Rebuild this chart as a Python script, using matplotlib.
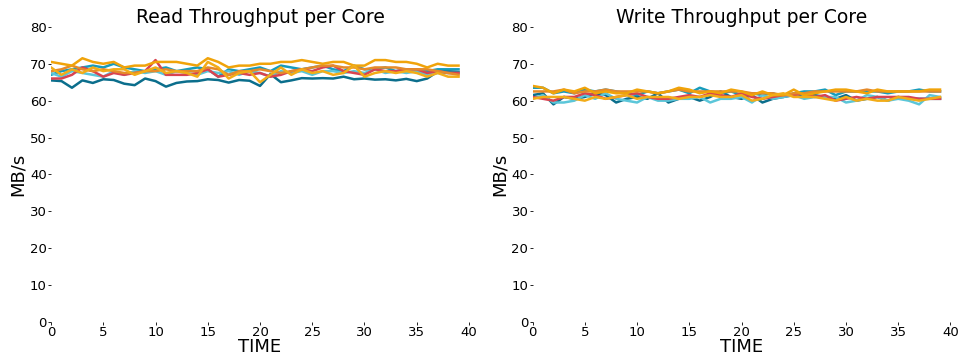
import numpy as np
import matplotlib
matplotlib.use("Agg")
import matplotlib.pyplot as plt

time = np.arange(40)

colors = ["#0b6e8c", "#179bbb", "#5bc6d9", "#d94350", "#e58a2a", "#f0a30a", "#f2ac18"]

read_darkteal = [65.5, 65.3, 63.5, 65.5, 64.8, 65.8, 65.6, 64.6, 64.2, 66.0, 65.3, 63.8, 64.8, 65.2, 65.3, 65.8, 65.6, 64.9, 65.6, 65.4,
                 64.0, 67.2, 65.0, 65.5, 66.1, 66.0, 66.1, 66.0, 66.5, 65.8, 66.0, 65.7, 65.8, 65.5, 65.9, 65.3, 66.0, 67.9, 68.0, 67.8]
read_teal = [67, 68, 68.5, 69, 69.5, 69, 70, 69, 68.5, 68, 68.5, 69, 68, 68.5, 69, 68.5, 66.5, 68.5, 68, 68.5,
             69, 68, 69.5, 69, 68.5, 69, 69.5, 68.5, 68, 69.5, 68.5, 68.5, 69, 68, 68.5, 68.5, 68, 68.5, 68.5, 68.5]
read_cyan = [67.5, 66.5, 68, 67.5, 67, 66.5, 68, 67, 68, 67.5, 68, 67, 68, 67.5, 67, 68, 67.5, 68, 67, 68,
             67.5, 66.5, 68, 67.5, 68, 67, 68, 68, 67.5, 68, 67.5, 68.5, 67.5, 68, 67.5, 68, 67, 67.5, 67.5, 67.5]
read_red = [66, 66, 67, 69, 68, 66.5, 67.5, 67, 67.5, 68, 71, 67, 67, 67, 67.5, 68.5, 66.5, 67, 67.5, 67,
            67.5, 66.5, 67, 68, 68.5, 68, 69, 69.5, 68, 67.5, 67, 68.5, 68, 68, 68.5, 68.5, 67.5, 68, 67.5, 67.5]
read_darkorange = [68, 68.5, 69.5, 68.5, 68, 68.5, 68, 67.5, 67.5, 68, 68, 68.5, 68, 68, 68, 69, 68.5, 67, 68, 68,
                   68.5, 68, 67.5, 68, 68.5, 69, 69.5, 69.5, 69, 69, 68.5, 69, 69, 69, 68.5, 68.5, 68.5, 68, 67.5, 67]
read_orange1 = [70.5, 70, 69.5, 71.5, 70.5, 70, 70.5, 69, 69.5, 69.5, 70.5, 70.5, 70.5, 70, 69.5, 71.5, 70.5, 69, 69.5, 69.5,
                70, 70, 70.5, 70.5, 71, 70.5, 70, 70.5, 70.5, 69.5, 69.5, 71, 71, 70.5, 70.5, 70, 69, 70, 69.5, 69.5]
read_orange2 = [69, 67, 68.5, 67.5, 69, 68, 68.5, 68.5, 67, 68, 69, 67.5, 68, 67.5, 66.5, 70.5, 69, 66, 67.5, 68,
                65, 67, 69, 67, 68.5, 67.5, 68, 67, 67.5, 69.5, 66.5, 67.5, 68, 67.5, 68, 67.5, 66.5, 67.5, 66.5, 66.5]

write_darkteal = [61.5, 62, 59, 61, 60.5, 61, 62, 61.5, 59.5, 60.5, 61, 60.5, 62, 59.5, 60.5, 61, 60, 61, 62.5, 61,
                  60.5, 61.5, 59.5, 60.5, 61, 61.5, 61, 61.5, 61, 60.5, 61.5, 60, 60.5, 61, 60, 61, 60.5, 60.5, 60.5, 60.5]
write_teal = [63.5, 63.5, 62, 62.5, 62, 63, 62.5, 63, 62.5, 62, 61.5, 62.5, 62, 62.5, 63, 62, 63.5, 62.5, 62, 62.5,
              61.5, 62, 61.5, 62, 61, 62, 62.5, 62.5, 63, 61.5, 62.5, 62.5, 62.5, 62.5, 62, 62.5, 62.5, 63, 62.5, 62.5]
write_cyan = [60.5, 61.5, 59.5, 59.5, 60, 61.5, 60.5, 62, 60.5, 60, 59.5, 61, 60, 60, 60.5, 60.5, 61, 59.5, 60.5, 60.5,
              61, 59.5, 61.5, 60.5, 61, 61.5, 60.5, 61, 61, 61, 59.5, 60, 61.5, 61, 60, 60.5, 60, 59, 61.5, 61]
write_red = [61, 60.5, 60, 61, 61, 62, 61.5, 60.5, 61, 61.5, 62, 61, 60.5, 60.5, 61, 61.5, 61, 62, 61.5, 61,
             62, 61, 60.5, 61, 61.5, 61.5, 62, 61, 61.5, 60, 60.5, 61, 60.5, 61, 61, 61, 61, 60.5, 60.5, 60.5]
write_darkorange = [62.5, 62.5, 62.5, 63, 62, 62.5, 62.5, 63, 62.5, 62.5, 62.5, 62.5, 62, 62.5, 63, 62.5, 62.5, 62.5, 62.5, 62.5,
                    62.5, 62, 62, 62, 61.5, 62, 62, 62.5, 62.5, 62.5, 62.5, 62.5, 63, 62.5, 62.5, 62.5, 62.5, 62.5, 62.5, 62.5]
write_orange1 = [64, 63.5, 62, 63, 62.5, 63.5, 62, 62.5, 62, 62, 63, 62.5, 62, 62.5, 63.5, 63, 62, 62.5, 62, 63,
                 62.5, 61.5, 62.5, 61.5, 61.5, 63, 61.5, 62, 62.5, 63, 63, 62.5, 62, 63, 62.5, 62.5, 62.5, 62.5, 63, 63]
write_orange2 = [60.5, 61, 61, 61, 60.5, 60, 61, 60.5, 61, 61.5, 60.5, 61, 61, 61, 60.5, 61, 61, 61.5, 61, 61,
                 61.5, 60, 60.5, 61.5, 62, 61, 61, 61, 60.5, 60, 61, 60, 60.5, 60, 60, 61, 60.5, 60, 60.5, 61]

read = [read_darkteal, read_teal, read_cyan, read_red, read_darkorange, read_orange1, read_orange2]
write = [write_darkteal, write_teal, write_cyan, write_red, write_darkorange, write_orange1, write_orange2]

fig = plt.figure(figsize=(9.63, 3.56), dpi=100)
ax1 = fig.add_axes([0.053, 0.0955, 0.434, 0.829])
ax2 = fig.add_axes([0.553, 0.0955, 0.434, 0.829])

for ax, series, title in [(ax1, read, "Read Throughput per Core"), (ax2, write, "Write Throughput per Core")]:
    for s, c in zip(series, colors):
        ax.plot(time, s, color=c, lw=1.8)
    ax.set_xlim(0, 40)
    ax.set_ylim(0, 80)
    ax.set_xticks(range(0, 41, 5))
    ax.set_yticks(range(0, 81, 10))
    for sp in ax.spines.values():
        sp.set_visible(False)
    ax.tick_params(length=2, width=0.6, labelsize=9.5, pad=1)
    ax.set_title(title, fontsize=13.5, pad=1)
    ax.set_xlabel("TIME", fontsize=13, labelpad=-1)
    ax.set_ylabel("MB/s", fontsize=13, labelpad=2)

fig.savefig("out.png", dpi=100)
